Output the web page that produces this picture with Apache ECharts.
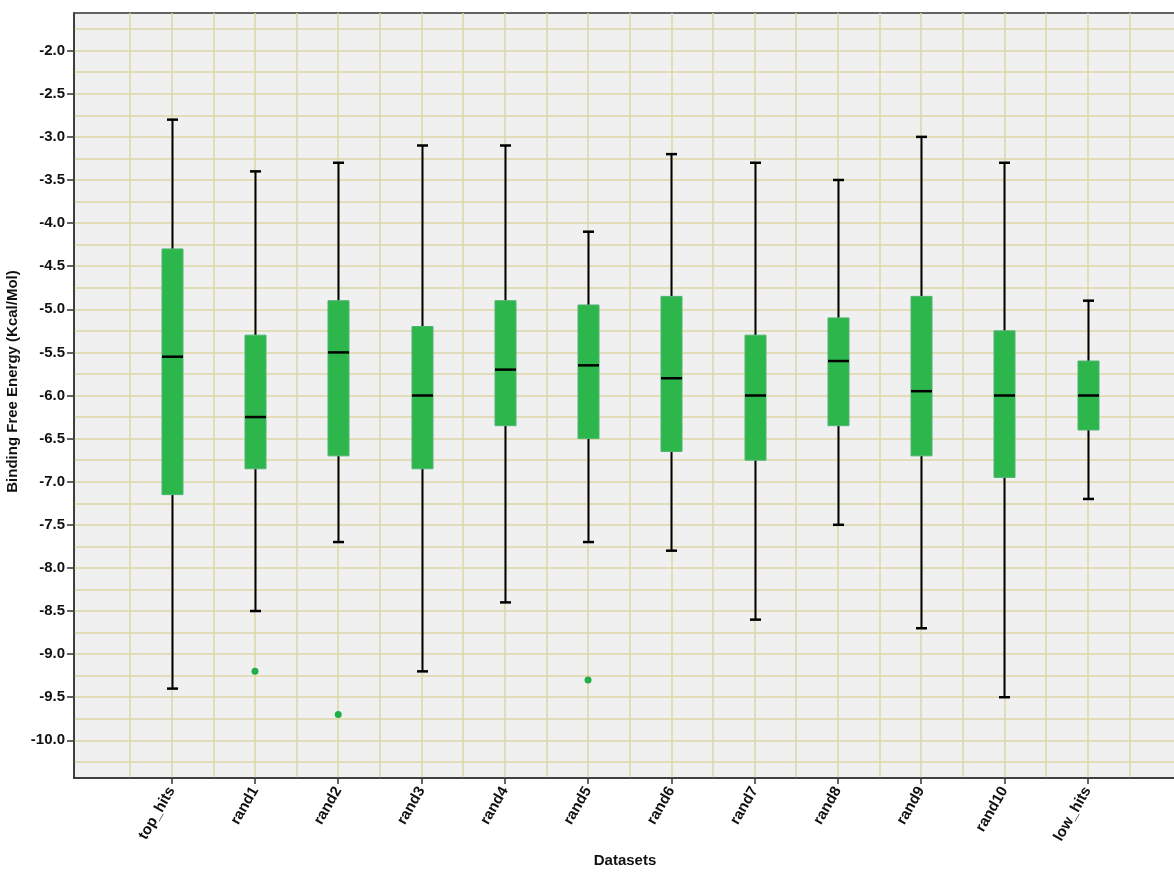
<!DOCTYPE html>
<html>
<head>
<meta charset="utf-8">
<script src="https://cdn.jsdelivr.net/npm/echarts@6/dist/echarts.min.js"></script>
<style>
html,body{margin:0;padding:0;background:#ffffff;}
#chart{width:1174px;height:874px;}
</style>
</head>
<body>
<div id="chart"></div>
<script>
// ---- data ----
const categories = ['top_hits','rand1','rand2','rand3','rand4','rand5','rand6','rand7','rand8','rand9','rand10','low_hits'];
const whiskerLow  = [-9.4, -8.5, -7.7, -9.2, -8.4, -7.7, -7.8, -8.6, -7.5, -8.7, -9.5, -7.2];
const quartile1   = [-7.15, -6.85, -6.7, -6.85, -6.35, -6.5, -6.65, -6.75, -6.35, -6.7, -6.95, -6.4];
const medians     = [-5.55, -6.25, -5.5, -6.0, -5.7, -5.65, -5.8, -6.0, -5.6, -5.95, -6.0, -6.0];
const quartile3   = [-4.3, -5.3, -4.9, -5.2, -4.9, -4.95, -4.85, -5.3, -5.1, -4.85, -5.25, -5.6];
const whiskerHigh = [-2.8, -3.4, -3.3, -3.1, -3.1, -4.1, -3.2, -3.3, -3.5, -3.0, -3.3, -4.9];
const outlierCategories = ['rand1', 'rand2', 'rand5'];
const outlierValues     = [-9.2, -9.7, -9.3];
const yTickLabels = [-2.0, -2.5, -3.0, -3.5, -4.0, -4.5, -5.0, -5.5, -6.0, -6.5, -7.0, -7.5, -8.0, -8.5, -9.0, -9.5, -10.0];
const yGridValues = [-1.75, -2.0, -2.25, -2.5, -2.75, -3.0, -3.25, -3.5, -3.75, -4.0, -4.25, -4.5, -4.75, -5.0, -5.25, -5.5, -5.75, -6.0, -6.25, -6.5, -6.75, -7.0, -7.25, -7.5, -7.75, -8.0, -8.25, -8.5, -8.75, -9.0, -9.25, -9.5, -9.75, -10.0, -10.25];
const xTickValues = categories.map((c, i) => i);
const xGridValues = [-0.5, 0, 0.5, 1, 1.5, 2, 2.5, 3, 3.5, 4, 4.5, 5, 5.5, 6, 6.5, 7, 7.5, 8, 8.5, 9, 9.5, 10, 10.5, 11, 11.5];

// ---- build ----
const boxData = categories.map((c, i) => [i, whiskerLow[i], quartile1[i], medians[i], quartile3[i], whiskerHigh[i]]);
const outlierData = outlierCategories.map((c, k) => [categories.indexOf(c), outlierValues[k]]);

const FONT = "'Liberation Sans', Arial, sans-serif";
const GRID_COLOR = '#dcd7a6';
const AXIS_COLOR = '#333333';
const BOX_FILL = '#2db64b';
const BOX_EDGE = '#4fb472';

const X_MIN = -1.1733, X_MAX = 12.061;
const Y_MIN = -10.437, Y_MAX = -1.563;

const chart = echarts.init(document.getElementById('chart'), null, {renderer: 'canvas'});

const option = {
  backgroundColor: '#ffffff',
  animation: false,
  grid: {
    left: 74, top: 13, right: -2, bottom: 96,
    containLabel: false,
    outerBoundsMode: 'none',
    show: true,
    backgroundColor: '#f0f0f0',
    borderColor: AXIS_COLOR,
    borderWidth: 1.5
  },
  xAxis: [
    {
      type: 'value',
      min: X_MIN, max: X_MAX,
      position: 'bottom',
      name: 'Datasets',
      nameLocation: 'middle',
      nameGap: 75,
      nameTextStyle: {fontFamily: FONT, fontWeight: 'bold', fontSize: 15, color: '#111'},
      axisLine: {show: true, onZero: false, lineStyle: {color: AXIS_COLOR, width: 1.5}},
      axisTick: {show: true, customValues: xTickValues, length: 6, lineStyle: {color: AXIS_COLOR, width: 1.5}},
      axisLabel: {
        show: true, customValues: xTickValues, rotate: 60, margin: 10,
        fontFamily: FONT, fontWeight: 'bold', fontSize: 15, color: '#111',
        formatter: v => categories[Math.round(v)]
      },
      splitLine: {show: false}
    },
    {
      type: 'value',
      min: X_MIN, max: X_MAX,
      position: 'top',
      axisLine: {show: false},
      axisTick: {show: false, customValues: xGridValues},
      axisLabel: {show: false, customValues: xGridValues},
      splitLine: {show: true, lineStyle: {color: GRID_COLOR, width: 1.5}}
    }
  ],
  yAxis: [
    {
      type: 'value',
      min: Y_MIN, max: Y_MAX,
      position: 'left',
      name: 'Binding Free Energy (Kcal/Mol)',
      nameLocation: 'middle',
      nameGap: 48,
      nameTextStyle: {fontFamily: FONT, fontWeight: 'bold', fontSize: 15, color: '#111', padding: [0, 0, 0, 28]},
      axisLine: {show: true, onZero: false, lineStyle: {color: AXIS_COLOR, width: 1.5}},
      axisTick: {show: true, customValues: yTickLabels, length: 7, lineStyle: {color: AXIS_COLOR, width: 1.5}},
      axisLabel: {
        show: true, customValues: yTickLabels, margin: 9,
        fontFamily: FONT, fontWeight: 'bold', fontSize: 15, color: '#111',
        formatter: v => v.toFixed(1)
      },
      splitLine: {show: false}
    },
    {
      type: 'value',
      min: Y_MIN, max: Y_MAX,
      position: 'right',
      axisLine: {show: false},
      axisTick: {show: false, customValues: yGridValues},
      axisLabel: {show: false, customValues: yGridValues},
      splitLine: {show: true, lineStyle: {color: GRID_COLOR, width: 1.5}}
    }
  ],
  series: [
    {
      type: 'custom',
      xAxisIndex: 0, yAxisIndex: 0,
      encode: {x: 0, y: [1, 2, 3, 4, 5]},
      data: boxData,
      z: 3,
      renderItem: function (params, api) {
        const x = api.value(0);
        const pLow = api.coord([x, api.value(1)]);
        const pQ1 = api.coord([x, api.value(2)]);
        const pMed = api.coord([x, api.value(3)]);
        const pQ3 = api.coord([x, api.value(4)]);
        const pHigh = api.coord([x, api.value(5)]);
        const cx = Math.round(pMed[0]) + 0.5;
        const bw = 21, cw = 11;
        const black = {stroke: '#000', lineWidth: 2};
        const cap = {stroke: '#000', lineWidth: 2.5};
        return {
          type: 'group',
          children: [
            {type: 'line', shape: {x1: cx, y1: pHigh[1], x2: cx, y2: pQ3[1]}, style: black},
            {type: 'line', shape: {x1: cx, y1: pQ1[1], x2: cx, y2: pLow[1]}, style: black},
            {type: 'line', shape: {x1: cx - cw / 2, y1: pHigh[1], x2: cx + cw / 2, y2: pHigh[1]}, style: cap},
            {type: 'line', shape: {x1: cx - cw / 2, y1: pLow[1], x2: cx + cw / 2, y2: pLow[1]}, style: cap},
            {type: 'rect', shape: {x: cx - bw / 2, y: pQ3[1], width: bw, height: pQ1[1] - pQ3[1]},
              style: {fill: BOX_FILL, stroke: BOX_EDGE, lineWidth: 1}},
            {type: 'line', shape: {x1: cx - bw / 2, y1: pMed[1], x2: cx + bw / 2, y2: pMed[1]},
              style: {stroke: '#000', lineWidth: 2.5}}
          ]
        };
      }
    },
    {
      type: 'scatter',
      xAxisIndex: 0, yAxisIndex: 0,
      data: outlierData,
      symbol: 'circle',
      symbolSize: 7,
      itemStyle: {color: '#1fae48', opacity: 1},
      z: 4
    }
  ]
};
chart.setOption(option);
</script>
</body>
</html>
